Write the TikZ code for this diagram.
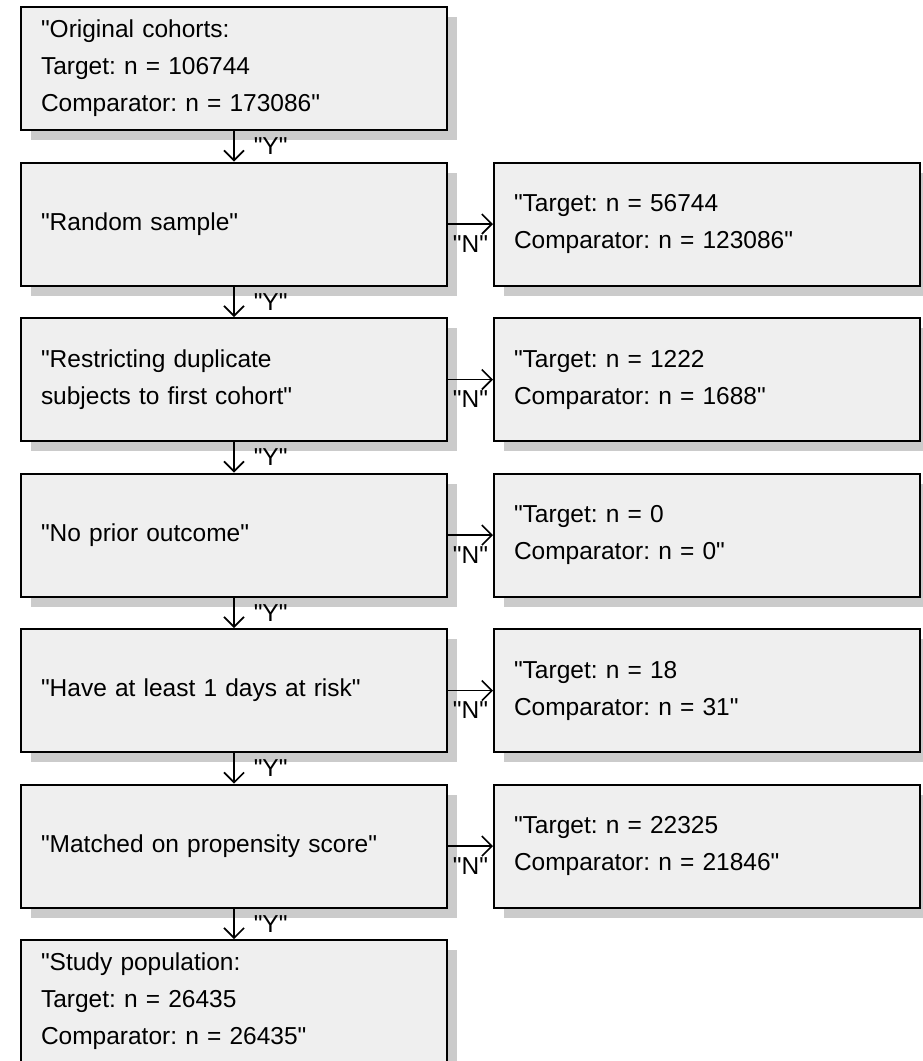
\documentclass[tikz,border=0pt]{standalone}
\usepackage{fontspec}
\setmainfont{Liberation Sans}[Ligatures=TeXOff]
\frenchspacing
\usetikzlibrary{arrows.meta,shadows}
\definecolor{boxfill}{HTML}{EFEFEF}
\definecolor{shadowc}{HTML}{CBCBCB}
\begin{document}
\begin{tikzpicture}[x=1pt,y=-1pt,
  box/.style={draw=black, line width=2pt, fill=boxfill, minimum width=426pt, minimum height=123pt,
    text width=386pt, inner xsep=20pt, inner ysep=0pt, align=left,
    font=\fontsize{24.5}{37}\selectfont\frenchspacing,
    drop shadow={shadow xshift=10pt, shadow yshift=-10pt, fill=shadowc, opacity=1}},
  flow/.style={-{Straight Barb[length=10pt,width=20pt]}, line width=1.6pt},
  lab/.style={font=\fontsize{24.5}{29}\selectfont, inner sep=0pt}]
\useasboundingbox (0,0) rectangle (923,1061);
\node[box] (b1) at (234,68.5) {"Original cohorts:\\Target: n = 106744\\Comparator: n = 173086"};
\node[box] (b2) at (234,224) {"Random sample"};
\node[box] (b3) at (234,379.5) {"Restricting duplicate\\subjects to first cohort"};
\node[box] (b4) at (234,535) {"No prior outcome"};
\node[box] (b5) at (234,690.5) {"Have at least 1 days at risk"};
\node[box] (b6) at (234,846) {"Matched on propensity score"};
\node[box] (b7) at (234,1001.5) {"Study population:\\Target: n = 26435\\Comparator: n = 26435"};
\node[box] (r2) at (707,224) {"Target: n = 56744\\Comparator: n = 123086"};
\node[box] (r3) at (707,379.5) {"Target: n = 1222\\Comparator: n = 1688"};
\node[box] (r4) at (707,535) {"Target: n = 0\\Comparator: n = 0"};
\node[box] (r5) at (707,690.5) {"Target: n = 18\\Comparator: n = 31"};
\node[box] (r6) at (707,846) {"Target: n = 22325\\Comparator: n = 21846"};
\foreach \a/\b in {b1/b2,b2/b3,b3/b4,b4/b5,b5/b6,b6/b7}{
  \draw[flow] (\a.south) -- node[lab, anchor=west, xshift=19pt]{"Y"} (\b.north);
}
\foreach \i in {2,3,4,5,6}{
  \draw[flow] (b\i.east) -- node[lab, yshift=-20pt]{"N"} (r\i.west);
}
\end{tikzpicture}
\end{document}
